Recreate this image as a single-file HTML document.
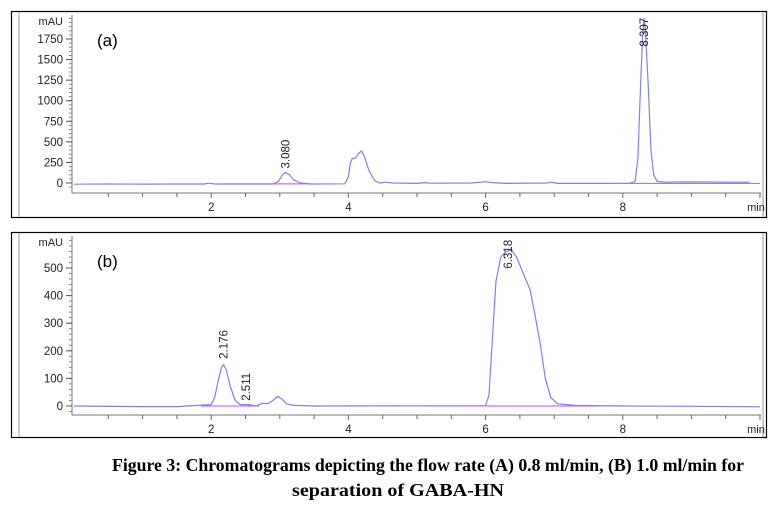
<!DOCTYPE html>
<html><head><meta charset="utf-8">
<style>
body{margin:0;background:#fff;width:777px;height:506px;overflow:hidden}
svg{display:block}
text{font-family:"Liberation Sans",sans-serif}
.cap{font-family:"Liberation Serif",serif;font-weight:bold;font-size:18px}
</style></head><body>
<svg id="chart" width="777" height="506" viewBox="0 0 777 506" xmlns="http://www.w3.org/2000/svg">
<text class="cap" x="112" y="471" textLength="632" lengthAdjust="spacingAndGlyphs">Figure 3: Chromatograms depicting the flow rate (A) 0.8 ml/min, (B) 1.0 ml/min for</text>
<text class="cap" x="292" y="496" textLength="212" lengthAdjust="spacingAndGlyphs">separation of GABA-HN</text>
</svg>
<script>
// Panel A data (time min, mAU)
const timesA=[0,0.5,1,1.5,1.9,1.97,2.05,2.5,2.9,2.98,3.04,3.08,3.14,3.2,3.3,3.45,3.95,4.0,4.03,4.06,4.1,4.15,4.19,4.23,4.3,4.38,4.45,4.55,4.65,5.0,5.1,5.2,5.8,6.0,6.1,6.3,6.9,6.95,7.05,7.9,8.1,8.18,8.22,8.26,8.29,8.31,8.33,8.37,8.41,8.45,8.5,8.6,9.0,9.5,9.85];
const valuesA=[-15,-12,-13,-12,-12,-2,-12,-12,-12,20,100,130,100,40,0,-12,-10,80,250,300,300,360,390,330,150,30,0,10,0,-5,5,-3,0,15,5,-5,0,10,-5,-5,-2,20,300,1200,1800,2000,1850,1200,400,100,20,10,15,10,10];
const yTicksA=[0,250,500,750,1000,1250,1500,1750];
const peakLabelsA=[["3.080",3.08,140],["8.307",8.31,2010]];
const baselinesA=[[2.2,3.45,-10],[8.0,10,-5]];
// Panel B data
const timesB=[0,1,1.5,1.8,2.0,2.05,2.1,2.15,2.18,2.22,2.28,2.35,2.42,2.55,2.65,2.75,2.82,2.9,2.97,3.03,3.1,3.2,3.5,6.0,6.05,6.1,6.15,6.22,6.3,6.38,6.45,6.55,6.65,6.72,6.8,6.87,6.95,7.05,7.3,8.0,9.0,10];
const valuesB=[0,-2,-2,2,5,30,90,140,150,130,70,20,5,5,0,10,8,20,35,25,8,2,0,1,40,250,450,540,560,565,540,480,420,330,220,100,30,8,2,0,-1,-3];
const yTicksB=[0,100,200,300,400,500];
const peakLabelsB=[["2.176",2.176,160],["2.511",2.511,8],["6.318",6.33,570]];
const baselinesB=[[1.85,2.7,0],[4.6,7.65,0]];
const xTicks=[2,4,6,8];

const svg=document.getElementById('chart');
const NS='http://www.w3.org/2000/svg';
function mk(tag,attrs,parent){const e=document.createElementNS(NS,tag);for(const k in attrs)e.setAttribute(k,attrs[k]);(parent||svg).appendChild(e);return e;}

function panel(cfg){
  const g=mk('g',{});
  
  
  const X=t=>74+t*68.6;
  const Y=v=>cfg.y0-v*cfg.scale;
  const fr=mk('rect',{x:11.5,y:cfg.top+0.5,width:755,height:cfg.h,fill:'none',stroke:'#000','stroke-width':1.2},g);
  
  
  mk('line',{x1:19,y1:cfg.top+1,x2:19,y2:cfg.top+cfg.h,stroke:'#bbb','stroke-width':1.5},g);
  mk('line',{x1:763,y1:cfg.top+1,x2:763,y2:cfg.top+cfg.h,stroke:'#bbb','stroke-width':1.5},g);
  const yax=mk('line',{x1:72,y1:cfg.top+4,x2:72,y2:cfg.axisY,stroke:'#777'},g);
  
  
  for(let v=cfg.minor*Math.ceil(cfg.ymin/cfg.minor);Y(v)>cfg.top+4;v+=cfg.minor){
    if(Y(v)>cfg.axisY)continue;
    mk('line',{x1:69,y1:Y(v),x2:72,y2:Y(v),stroke:'#888'},g);
  }
  cfg.yTicks.forEach(v=>{
    mk('line',{x1:66,y1:Y(v),x2:72,y2:Y(v),stroke:'#555'},g);
    const t=mk('text',{x:63,y:Y(v)+4,'text-anchor':'end','font-size':11.5,fill:'#222'},g);
    t.textContent=v;
    
    
  });
  const u=mk('text',{x:63,y:cfg.top+14,'text-anchor':'end','font-size':11,fill:'#222'},g);
  u.textContent='mAU';
  
  
  const xax=mk('line',{x1:72,y1:cfg.axisY,x2:761,y2:cfg.axisY,stroke:'#777'},g);
  
  
  for(let t=0.5;t<=10.01;t+=0.5){
    const major=Math.abs(t-Math.round(t/2)*2)<0.01;
    mk('line',{x1:X(t),y1:cfg.axisY,x2:X(t),y2:cfg.axisY+(major?5:4),stroke:'#666'},g);
  }
  xTicks.forEach(v=>{
    const t=mk('text',{x:X(v),y:cfg.axisY+18,'text-anchor':'middle','font-size':11.5,fill:'#222'},g);
    t.textContent=v;
    
    
  });
  const mn=mk('text',{x:756,y:cfg.axisY+18,'text-anchor':'middle','font-size':11,fill:'#222'},g);
  mn.textContent='min';
  
  
  const lab=mk('text',{x:97,y:cfg.top+35,'font-size':17,fill:'#000','font-family':'Liberation Serif,serif'},g);
  lab.textContent=cfg.label;
  
  
  cfg.bl.forEach(b=>{
    const l=mk('line',{x1:X(b[0]),y1:Y(b[2]),x2:X(b[1]),y2:Y(b[2]),stroke:'#e040e0','stroke-width':1},g);
    
    
  });
  let d='';
  cfg.times.forEach((t,i)=>{d+=(i?'L':'M')+X(t).toFixed(1)+','+Math.max(cfg.top+2,Y(cfg.vals[i])).toFixed(1);});
  const p=mk('path',{d:d,fill:'none',stroke:'#8080f0','stroke-width':1.2,'stroke-linejoin':'round'},g);
  
  
  cfg.peaks.forEach(pk=>{
    const x=X(pk[1]);
    const big=pk[2]>=500;
    const y=big?Math.max(cfg.top+2,Y(pk[2]))+(Y(pk[2])<cfg.top+15?29:20):Y(pk[2])-3;
    const t=mk('text',{x:x+4,y:y,'font-size':11.5,fill:'#222',transform:'rotate(-90 '+(x+4)+' '+y+')'},g);
    t.textContent=pk[0];
    
    
  });
}
panel({name:'panel-a',top:11,h:206,y0:183,scale:144/1750,axisY:193,ymin:-50,minor:50,yTicks:yTicksA,label:'(a)',times:timesA,vals:valuesA,peaks:peakLabelsA,bl:baselinesA});
panel({name:'panel-b',top:232,h:205,y0:406,scale:138/500,axisY:415,ymin:-20,minor:20,yTicks:yTicksB,label:'(b)',times:timesB,vals:valuesB,peaks:peakLabelsB,bl:baselinesB});
</script>
</body></html>
